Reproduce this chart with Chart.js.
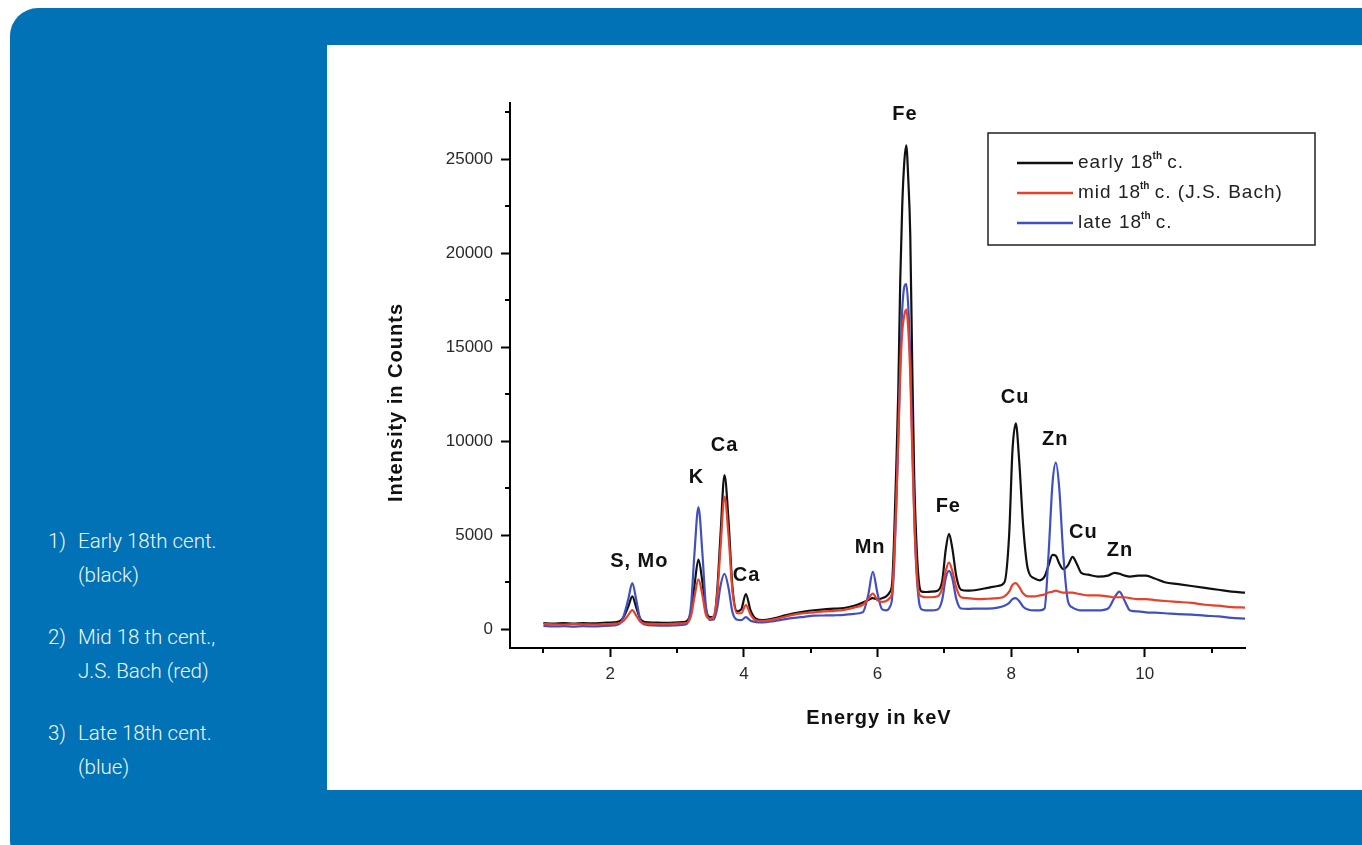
<!DOCTYPE html>
<html>
<head>
<meta charset="utf-8">
<title>EDXRF spectra</title>
<script src="https://cdn.jsdelivr.net/npm/chart.js@4/dist/chart.umd.min.js"></script>
<style>
  html, body { margin: 0; padding: 0; background: #fff; }
  body { width: 1362px; height: 845px; position: relative; overflow: hidden; }
  .panel {
    position: absolute; left: 10px; top: 8px; width: 1400px; height: 860px;
    background: #0072b5; border-radius: 28px 0 0 28px;
  }
  .plot {
    position: absolute; left: 327px; top: 45px; width: 1035px; height: 745px; background: #fff;
  }
  .notes {
    position: absolute; left: 0; top: 0; color: #f2f6fa;
    font-family: Roboto, "Liberation Sans", sans-serif; font-weight: 300; font-size: 20.5px; line-height: 34px;
  }
  .note { position: absolute; left: 48px; width: 270px; }
  .note .n { position: absolute; left: 0; top: 0; }
  .note .t { margin-left: 30px; white-space: nowrap; }
</style>
</head>
<body>
<div class="panel"></div>
<div class="notes">
  <div class="note" style="top:524px"><span class="n">1)</span><div class="t">Early 18th cent.<br>(black)</div></div>
  <div class="note" style="top:620px"><span class="n">2)</span><div class="t">Mid 18 th cent.,<br>J.S. Bach (red)</div></div>
  <div class="note" style="top:716px"><span class="n">3)</span><div class="t">Late 18th cent.<br>(blue)</div></div>
</div>
<div class="plot"><canvas id="espectro"></canvas></div>
<script>
// energia en keV, cuentas
const energias = [
  1.00, 1.15, 1.30, 1.45, 1.60, 1.75, 1.90, 2.05, 2.14, 2.20,
  2.27, 2.33, 2.39, 2.45, 2.52, 2.65, 2.80, 2.95, 3.08, 3.15,
  3.21, 3.26, 3.32, 3.38, 3.43, 3.49, 3.55, 3.60, 3.65, 3.71,
  3.77, 3.83, 3.90, 3.96, 4.03, 4.10, 4.18, 4.28, 4.45, 4.60,
  4.75, 4.90, 5.05, 5.20, 5.35, 5.50, 5.65, 5.78, 5.86, 5.93,
  6.00, 6.07, 6.13, 6.18, 6.22, 6.25, 6.28, 6.31, 6.34, 6.37,
  6.40, 6.43, 6.46, 6.49, 6.52, 6.55, 6.58, 6.62, 6.66, 6.72,
  6.80, 6.90, 6.97, 7.02, 7.07, 7.12, 7.18, 7.25, 7.35, 7.50,
  7.65, 7.80, 7.90, 7.97, 8.02, 8.07, 8.12, 8.18, 8.25, 8.35,
  8.43, 8.50, 8.56, 8.62, 8.67, 8.72, 8.78, 8.85, 8.92, 8.98,
  9.05, 9.15, 9.30, 9.45, 9.55, 9.62, 9.70, 9.78, 9.90, 10.02,
  10.15, 10.30, 10.50, 10.70, 10.90, 11.10, 11.30, 11.50
];

const cuentasTemprano = [
  330, 300, 320, 300, 320, 310, 340, 360, 420, 650,
  1200, 1750, 1150, 550, 380, 350, 340, 350, 380, 450,
  950, 2300, 3700, 2500, 1100, 650, 650, 2000, 5000, 8200,
  5800, 2200, 950, 1050, 1870, 1000, 560, 480, 580, 720,
  850, 940, 1010, 1060, 1090, 1130, 1250, 1420, 1550, 1650,
  1600, 1650, 1750, 1950, 2500, 5000, 8500, 12500, 18500, 22500,
  24800, 25750, 24000, 21000, 14000, 8000, 4800, 2500, 2000, 1980,
  2000, 2050, 2600, 4200, 5070, 4300, 2800, 2100, 2050, 2100,
  2200, 2300, 2500, 5000, 9500, 10950, 9000, 5500, 3200, 2700,
  2600, 2800, 3400, 3950, 3900, 3500, 3200, 3400, 3850, 3500,
  3000, 2900, 2800, 2850, 3000, 2950, 2850, 2800, 2850, 2850,
  2700, 2500, 2400, 2300, 2200, 2100, 2000, 1950
];

const cuentasMedio = [
  280, 260, 250, 270, 260, 250, 270, 290, 330, 450,
  750, 1020, 720, 400, 300, 280, 270, 290, 310, 350,
  720, 1700, 2650, 1800, 800, 550, 700, 1800, 4300, 7050,
  5000, 2000, 850, 850, 1280, 780, 480, 440, 520, 650,
  780, 850, 900, 950, 980, 1030, 1150, 1300, 1600, 1900,
  1550, 1450, 1500, 1650, 2000, 3800, 6500, 10000, 13500, 15800,
  16700, 17000, 16000, 13500, 9500, 6000, 3500, 1900, 1750, 1700,
  1700, 1750, 2200, 3100, 3550, 3100, 2200, 1700, 1650, 1600,
  1620, 1650, 1750, 2000, 2350, 2450, 2250, 1900, 1750, 1750,
  1800, 1850, 1950, 2000, 2050, 2000, 1950, 1950, 1950, 1900,
  1850, 1800, 1800, 1750, 1700, 1700, 1700, 1650, 1600, 1600,
  1550, 1500, 1450, 1400, 1300, 1250, 1180, 1150
];

const cuentasTardio = [
  170, 150, 160, 140, 160, 150, 170, 200, 280, 700,
  1600, 2450, 1550, 500, 250, 200, 190, 200, 230, 300,
  1300, 4000, 6500, 4000, 1300, 500, 520, 1100, 2300, 2950,
  2200, 900, 500, 480, 640, 450, 380, 360, 430, 520,
  600, 660, 720, 730, 740, 760, 820, 900, 1800, 3050,
  1900, 1050, 1000, 1150, 1700, 3500, 6500, 10000, 14000, 17000,
  18200, 18370, 17200, 14500, 10000, 6000, 3300, 1500, 1050, 1000,
  1000, 1050, 1600, 2700, 3100, 2700, 1600, 1100, 1080, 1100,
  1100, 1150, 1250, 1400, 1600, 1650, 1500, 1200, 1050, 1000,
  1000, 1100, 4000, 7800, 8860, 7500, 4000, 1500, 1150, 1050,
  1000, 1000, 1000, 1100, 1700, 2000, 1500, 1000, 950, 900,
  880, 850, 800, 780, 720, 680, 600, 560
];

const nombresSeries = ['early 18th c.', 'mid 18th c. (J.S. Bach)', 'late 18th c.'];
const coloresSeries = ['#111111', '#e8402a', '#4150c0'];

const ticksEnergia = [2, 4, 6, 8, 10];
const ticksEnergiaMenores = [1, 3, 5, 7, 9, 11];
const ticksCuentas = [0, 5000, 10000, 15000, 20000, 25000];
const ticksCuentasMenores = [2500, 7500, 12500, 17500, 22500, 27500];

// etiquetas de los picos (posicion en keV y cuentas)
const picosNombre = ['Fe', 'S, Mo', 'K', 'Ca', 'Ca', 'Mn', 'Fe', 'Cu', 'Zn', 'Cu', 'Zn'];
const picosEnergia = [6.41, 2.435, 3.29, 3.71, 4.04, 5.89, 7.06, 8.06, 8.66, 9.08, 9.63];
const picosCuentas = [27400, 3580, 8060, 9770, 2880, 4330, 6510, 12340, 10090, 5130, 4170];

const fuente = "'Liberation Sans', Arial, sans-serif";

const aPuntos = (valores) => energias.map((e, i) => ({ x: e, y: valores[i] }));

const adornos = {
  id: 'adornos',
  afterDraw(chart) {
    const { ctx, chartArea: area, scales: { x, y } } = chart;
    ctx.save();

    // marcas menores
    ctx.strokeStyle = '#000';
    ctx.lineWidth = 2;
    ctx.beginPath();
    ticksEnergiaMenores.forEach((v) => {
      const px = Math.round(x.getPixelForValue(v));
      ctx.moveTo(px, area.bottom);
      ctx.lineTo(px, area.bottom + 5);
    });
    ticksCuentasMenores.forEach((v) => {
      const py = Math.round(y.getPixelForValue(v));
      ctx.moveTo(area.left - 5, py);
      ctx.lineTo(area.left, py);
    });
    ctx.stroke();

    // titulos de ejes
    ctx.fillStyle = '#111';
    ctx.font = `bold 20px ${fuente}`;
    ctx.letterSpacing = '1px';
    ctx.textAlign = 'center';
    ctx.textBaseline = 'middle';
    ctx.fillText('Energy in keV', area.left + 369, area.bottom + 70);
    ctx.save();
    ctx.translate(area.left - 114, (area.top + area.bottom) / 2 + 27);
    ctx.rotate(-Math.PI / 2);
    ctx.fillText('Intensity in Counts', 0, 0);
    ctx.restore();

    // nombres de los picos
    picosNombre.forEach((nombre, i) => {
      ctx.fillText(nombre, x.getPixelForValue(picosEnergia[i]), y.getPixelForValue(picosCuentas[i]));
    });

    // leyenda
    const lx = area.left + 478;
    const ly = area.top + 30;
    ctx.strokeStyle = '#222';
    ctx.lineWidth = 1.5;
    ctx.strokeRect(lx, ly, 327, 112);
    ctx.textAlign = 'left';
    ctx.textBaseline = 'middle';
    nombresSeries.forEach((nombre, i) => {
      const fy = ly + 30 + i * 30;
      ctx.strokeStyle = coloresSeries[i];
      ctx.lineWidth = 2.5;
      ctx.beginPath();
      ctx.moveTo(lx + 29, fy);
      ctx.lineTo(lx + 85, fy);
      ctx.stroke();

      const corte = nombre.indexOf('th');
      const antes = nombre.slice(0, corte);
      const despues = nombre.slice(corte + 2);
      let cx = lx + 90;
      ctx.fillStyle = '#222';
      ctx.font = `19px ${fuente}`;
      ctx.letterSpacing = '1px';
      ctx.fillText(antes, cx, fy);
      cx += ctx.measureText(antes).width;
      ctx.font = `bold 10px ${fuente}`;
      ctx.letterSpacing = '0px';
      ctx.fillText('th', cx - 1, fy - 7);
      cx += ctx.measureText('th').width;
      ctx.font = `19px ${fuente}`;
      ctx.letterSpacing = '1px';
      ctx.fillText(despues, cx - 2, fy);
    });

    ctx.restore();
  }
};

new Chart(document.getElementById('espectro'), {
  type: 'line',
  data: {
    datasets: [{
      label: nombresSeries[0],
      data: aPuntos(cuentasTemprano),
      borderColor: coloresSeries[0],
      order: 2
    }, {
      label: nombresSeries[1],
      data: aPuntos(cuentasMedio),
      borderColor: coloresSeries[1],
      order: 0
    }, {
      label: nombresSeries[2],
      data: aPuntos(cuentasTardio),
      borderColor: coloresSeries[2],
      order: 1
    }]
  },
  options: {
    responsive: true,
    maintainAspectRatio: false,
    animation: false,
    layout: {
      padding: { top: 58, right: 117, left: 0, bottom: 0 }
    },
    elements: {
      point: { radius: 0 },
      line: { borderWidth: 2.2, fill: false, cubicInterpolationMode: 'monotone' }
    },
    plugins: {
      legend: { display: false },
      tooltip: { enabled: false }
    },
    scales: {
      x: {
        type: 'linear',
        min: 0.5,
        max: 11.5,
        afterBuildTicks: (eje) => { eje.ticks = ticksEnergia.map((v) => ({ value: v })); },
        afterFit: (eje) => { eje.height = 142; },
        grid: { drawOnChartArea: false, drawTicks: true, tickLength: 9, tickWidth: 2, tickColor: '#000' },
        border: { display: true, color: '#000', width: 2 },
        ticks: {
          color: '#2a2a2a',
          padding: 7,
          maxRotation: 0,
          font: { size: 17, family: fuente },
          callback: (v) => String(v)
        }
      },
      y: {
        type: 'linear',
        min: -1000,
        max: 28000,
        afterBuildTicks: (eje) => { eje.ticks = ticksCuentas.map((v) => ({ value: v })); },
        afterFit: (eje) => { eje.width = 183; },
        grid: { drawOnChartArea: false, drawTicks: true, tickLength: 9, tickWidth: 2, tickColor: '#000' },
        border: { display: true, color: '#000', width: 2 },
        ticks: {
          color: '#2a2a2a',
          padding: 8,
          font: { size: 17, family: fuente },
          callback: (v) => String(v)
        }
      }
    }
  },
  plugins: [adornos]
});
</script>
</body>
</html>
